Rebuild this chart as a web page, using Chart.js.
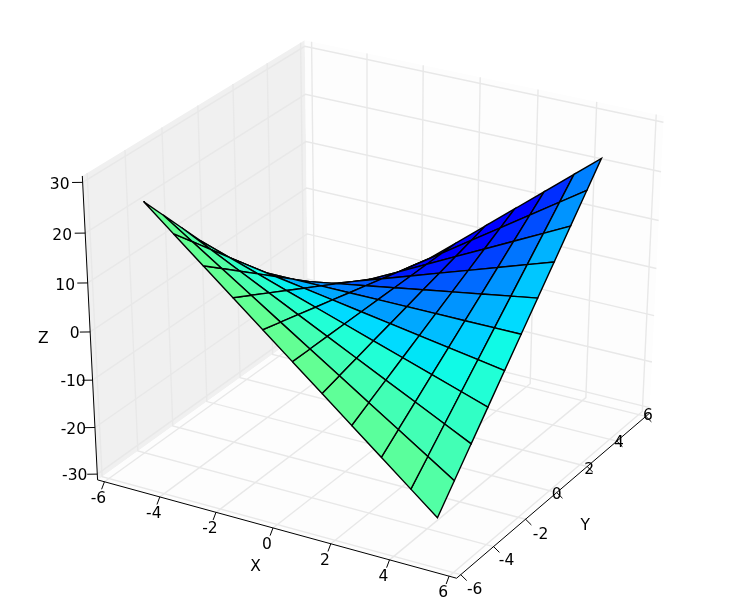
<!DOCTYPE html>
<html lang="en">
<meta charset="utf-8" />
<title>Saddle surface</title>
<script src="https://cdn.jsdelivr.net/npm/chart.js@4.4.1"></script>
<style>
body{margin:0;background:#fff}
canvas{display:block}
</style>
<body>
<canvas id="chart" width="736" height="616"></canvas>
<script>
/* surface samples */
const xValues = [-5,-4,-3,-2,-1,0,1,2,3,4,4.9];
const yValues = [-5,-4,-3,-2,-1,0,1,2,3,4,4.9];
/* one row per y value, one column per x value */
const zValues = [
  [ 25, 20, 15, 10,  5, 0, -5,-10,-15,-20,-24.5],
  [ 20, 16, 12,  8,  4, 0, -4, -8,-12,-16,-19.6],
  [ 15, 12,  9,  6,  3, 0, -3, -6, -9,-12,-14.7],
  [ 10,  8,  6,  4,  2, 0, -2, -4, -6, -8, -9.8],
  [  5,  4,  3,  2,  1, 0, -1, -2, -3, -4, -4.9],
  [  0,  0,  0,  0,  0, 0,  0,  0,  0,  0,  0],
  [ -5, -4, -3, -2, -1, 0,  1,  2,  3,  4,  4.9],
  [-10, -8, -6, -4, -2, 0,  2,  4,  6,  8,  9.8],
  [-15,-12, -9, -6, -3, 0,  3,  6,  9, 12, 14.7],
  [-20,-16,-12, -8, -4, 0,  4,  8, 12, 16, 19.6],
  [-24.5,-19.6,-14.7,-9.8,-4.9, 0, 4.9, 9.8, 14.7, 19.6, 24.01]
];
/* colour of each cell, as a position on the jet colour map */
const cellTones = [
  [.47,.47,.47,.47,.47,.47,.465,.46,.46,.45],
  [.45,.45,.44,.44,.43,.43,.43,.43,.43,.43],
  [.42,.41,.40,.40,.39,.39,.39,.39,.40,.41],
  [.38,.37,.36,.35,.34,.34,.34,.35,.37,.39],
  [.33,.31,.30,.29,.28,.28,.29,.31,.33,.37],
  [.29,.27,.26,.25,.24,.24,.25,.27,.30,.34],
  [.25,.23,.22,.21,.20,.20,.21,.23,.27,.32],
  [.20,.18,.17,.16,.15,.15,.16,.19,.24,.30],
  [.16,.14,.13,.12,.12,.12,.13,.16,.20,.27],
  [.12,.11,.11,.11,.11,.11,.11,.13,.17,.25]
];
const xTicks = [-6,-4,-2,0,2,4,6];
const yTicks = [-6,-4,-2,0,2,4,6];
const zTicks = [-30,-20,-10,0,10,20,30];

/* axis box: the limits are ±6 / ±30, the panes stand a little outside them */
const XY_LIM = 6, Z_LIM = 30, XY_BOX = 6.25, Z_BOX = 31.25;
const ELEV = 30, AZIM = -60, DIST = 10;

/* label offsets from the tick, in px */
const xLabelOff = [[-6,17],[-6,17],[-6,17],[-6,17],[-6,17],[-6,17],[-6,17]];
const yLabelOff = [[14,15],[13,14],[15,16],[0,2],[2,3],[2,2],[2,0]];
const zLabelOff = [[-22.5,2],[-21.5,2],[-19.5,2],[-15.5,2],[-22.5,3],[-23,3],[-23,3]];

/*── 3D → 2D, same camera as mplot3d ──*/
const el = ELEV*Math.PI/180, az = AZIM*Math.PI/180;
const nv = [Math.cos(az)*Math.cos(el), Math.sin(az)*Math.cos(el), Math.sin(el)];
const uv = [-Math.sin(az), Math.cos(az), 0];
const vv = [nv[1]*uv[2]-nv[2]*uv[1], nv[2]*uv[0]-nv[0]*uv[2], nv[0]*uv[1]-nv[1]*uv[0]];
const dot = (a,b) => a[0]*b[0]+a[1]*b[1]+a[2]*b[2];
function norm(x,y,z){ return [x/XY_LIM/2, y/XY_LIM/2, z/Z_LIM/2]; }
function depth(x,y,z){ return DIST - dot(norm(x,y,z), nv); }
function proj(x,y,z){
  const p = norm(x,y,z), d = DIST - dot(p,nv);
  return {x: dot(p,uv)/d, y: dot(p,vv)/d};
}

function jet(t){
  const c = v => Math.round(255*Math.max(0,Math.min(1,v)));
  const r = (t-.35)/.31;
  const g = t<.64 ? (t-.125)/.25 : (.91-t)/.27;
  const b = t<.34 ? .5+(t/.11)*.5 : (.65-t)/.31;
  return `rgb(${c(r)},${c(g)},${c(b)})`;
}

const datasets = [];   // back to front, reversed at the end
function addLine(pts, color, width){
  datasets.push({data:pts.map(p=>proj(...p)), showLine:true, pointRadius:0, fill:false,
                 borderColor:color, borderWidth:width, borderCapStyle:'butt'});
}
function addPoly(pts, face, edge, width){
  const closed = pts.concat([pts[0]]);
  datasets.push({data:closed.map(p=>proj(...p)), showLine:true, pointRadius:0, fill:'shape',
                 backgroundColor:face, borderColor:edge, borderWidth:width});
}

const B = XY_BOX, Z = Z_BOX;
/* panes */
addPoly([[-B,-B,-Z],[-B,B,-Z],[-B,B,Z],[-B,-B,Z]], '#f0f0f0', '#f0f0f0', 0);
addPoly([[-B,B,-Z],[B,B,-Z],[B,B,Z],[-B,B,Z]], '#fdfdfd', '#fdfdfd', 0);
addPoly([[-B,-B,-Z],[B,-B,-Z],[B,B,-Z],[-B,B,-Z]], '#fdfdfd', '#fdfdfd', 0);

/* grid */
const GRID = '#e8e8e8', GW = 1.4;
xTicks.forEach(t => addLine([[t,-B,-Z],[t,B,-Z],[t,B,Z]], GRID, GW));
yTicks.forEach(t => addLine([[B,t,-Z],[-B,t,-Z],[-B,t,Z]], GRID, GW));
zTicks.forEach(t => addLine([[-B,-B,t],[-B,B,t],[B,B,t]], GRID, GW));

/* axis lines and ticks */
addLine([[-B,-B,-Z],[B,-B,-Z]], '#000', 1);
addLine([[B,-B,-Z],[B,B,-Z]], '#000', 1);
addLine([[-B,-B,-Z],[-B,-B,Z]], '#000', 1);
xTicks.forEach(t => addLine([[t,-B,-Z],[t,-B-.17,-Z-1.15]], '#000', 1));
yTicks.forEach(t => addLine([[B,t,-Z],[B+.2,t,-Z-.9]], '#000', 1));
zTicks.forEach(t => addLine([[-B,-B,t],[-B-.26,-B-.16,t]], '#000', 1));

/* surface cells, far ones first */
const cells = [];
for (let j=0;j<yValues.length-1;j++){
  for (let i=0;i<xValues.length-1;i++){
    const pts = [[xValues[i],yValues[j],zValues[j][i]],
                 [xValues[i+1],yValues[j],zValues[j][i+1]],
                 [xValues[i+1],yValues[j+1],zValues[j+1][i+1]],
                 [xValues[i],yValues[j+1],zValues[j+1][i]]];
    const d = pts.reduce((s,p)=>s+depth(...p),0)/4;
    cells.push({pts, d, tone:cellTones[j][i]});
  }
}
cells.sort((a,b)=>b.d-a.d);
cells.forEach(c => addPoly(c.pts, jet(c.tone), '#000', 1.4));

/* Chart.js paints the first dataset last */
datasets.reverse();

/* tick and axis labels */
const labelPlugin = {
  id:'labels3d',
  afterDatasetsDraw(chart){
    const {ctx, scales} = chart;
    const put = (txt,p,off) => {
      ctx.fillText(txt, scales.x.getPixelForValue(p.x)+off[0], scales.y.getPixelForValue(p.y)+off[1]);
    };
    ctx.save();
    ctx.fillStyle = '#000';
    ctx.font = '15.5px "DejaVu Sans"';
    ctx.textAlign = 'center';
    ctx.textBaseline = 'middle';
    xTicks.forEach((t,i) => put(String(t), proj(t,-B,-Z), xLabelOff[i]));
    yTicks.forEach((t,i) => put(String(t), proj(B,t,-Z), yLabelOff[i]));
    zTicks.forEach((t,i) => put(String(t), proj(-B,-B,t), zLabelOff[i]));
    put('X', proj(.3,-B,-Z), [-26,37]);
    put('Y', proj(B,-1,-Z), [44,20]);
    put('Z', proj(-B,-B,-1), [-47,2]);
    ctx.restore();
  }
};

new Chart(document.getElementById('chart').getContext('2d'), {
  type:'scatter',
  data:{datasets},
  options:{
    responsive:false,
    animation:false,
    layout:{padding:0},
    plugins:{legend:{display:false}, tooltip:{enabled:false}},
    scales:{
      x:{type:'linear', display:false, min:-.095, max:.09},
      y:{type:'linear', display:false, min:-.095, max:.09}
    }
  },
  plugins:[labelPlugin]
});
</script>
</body>
</html>
